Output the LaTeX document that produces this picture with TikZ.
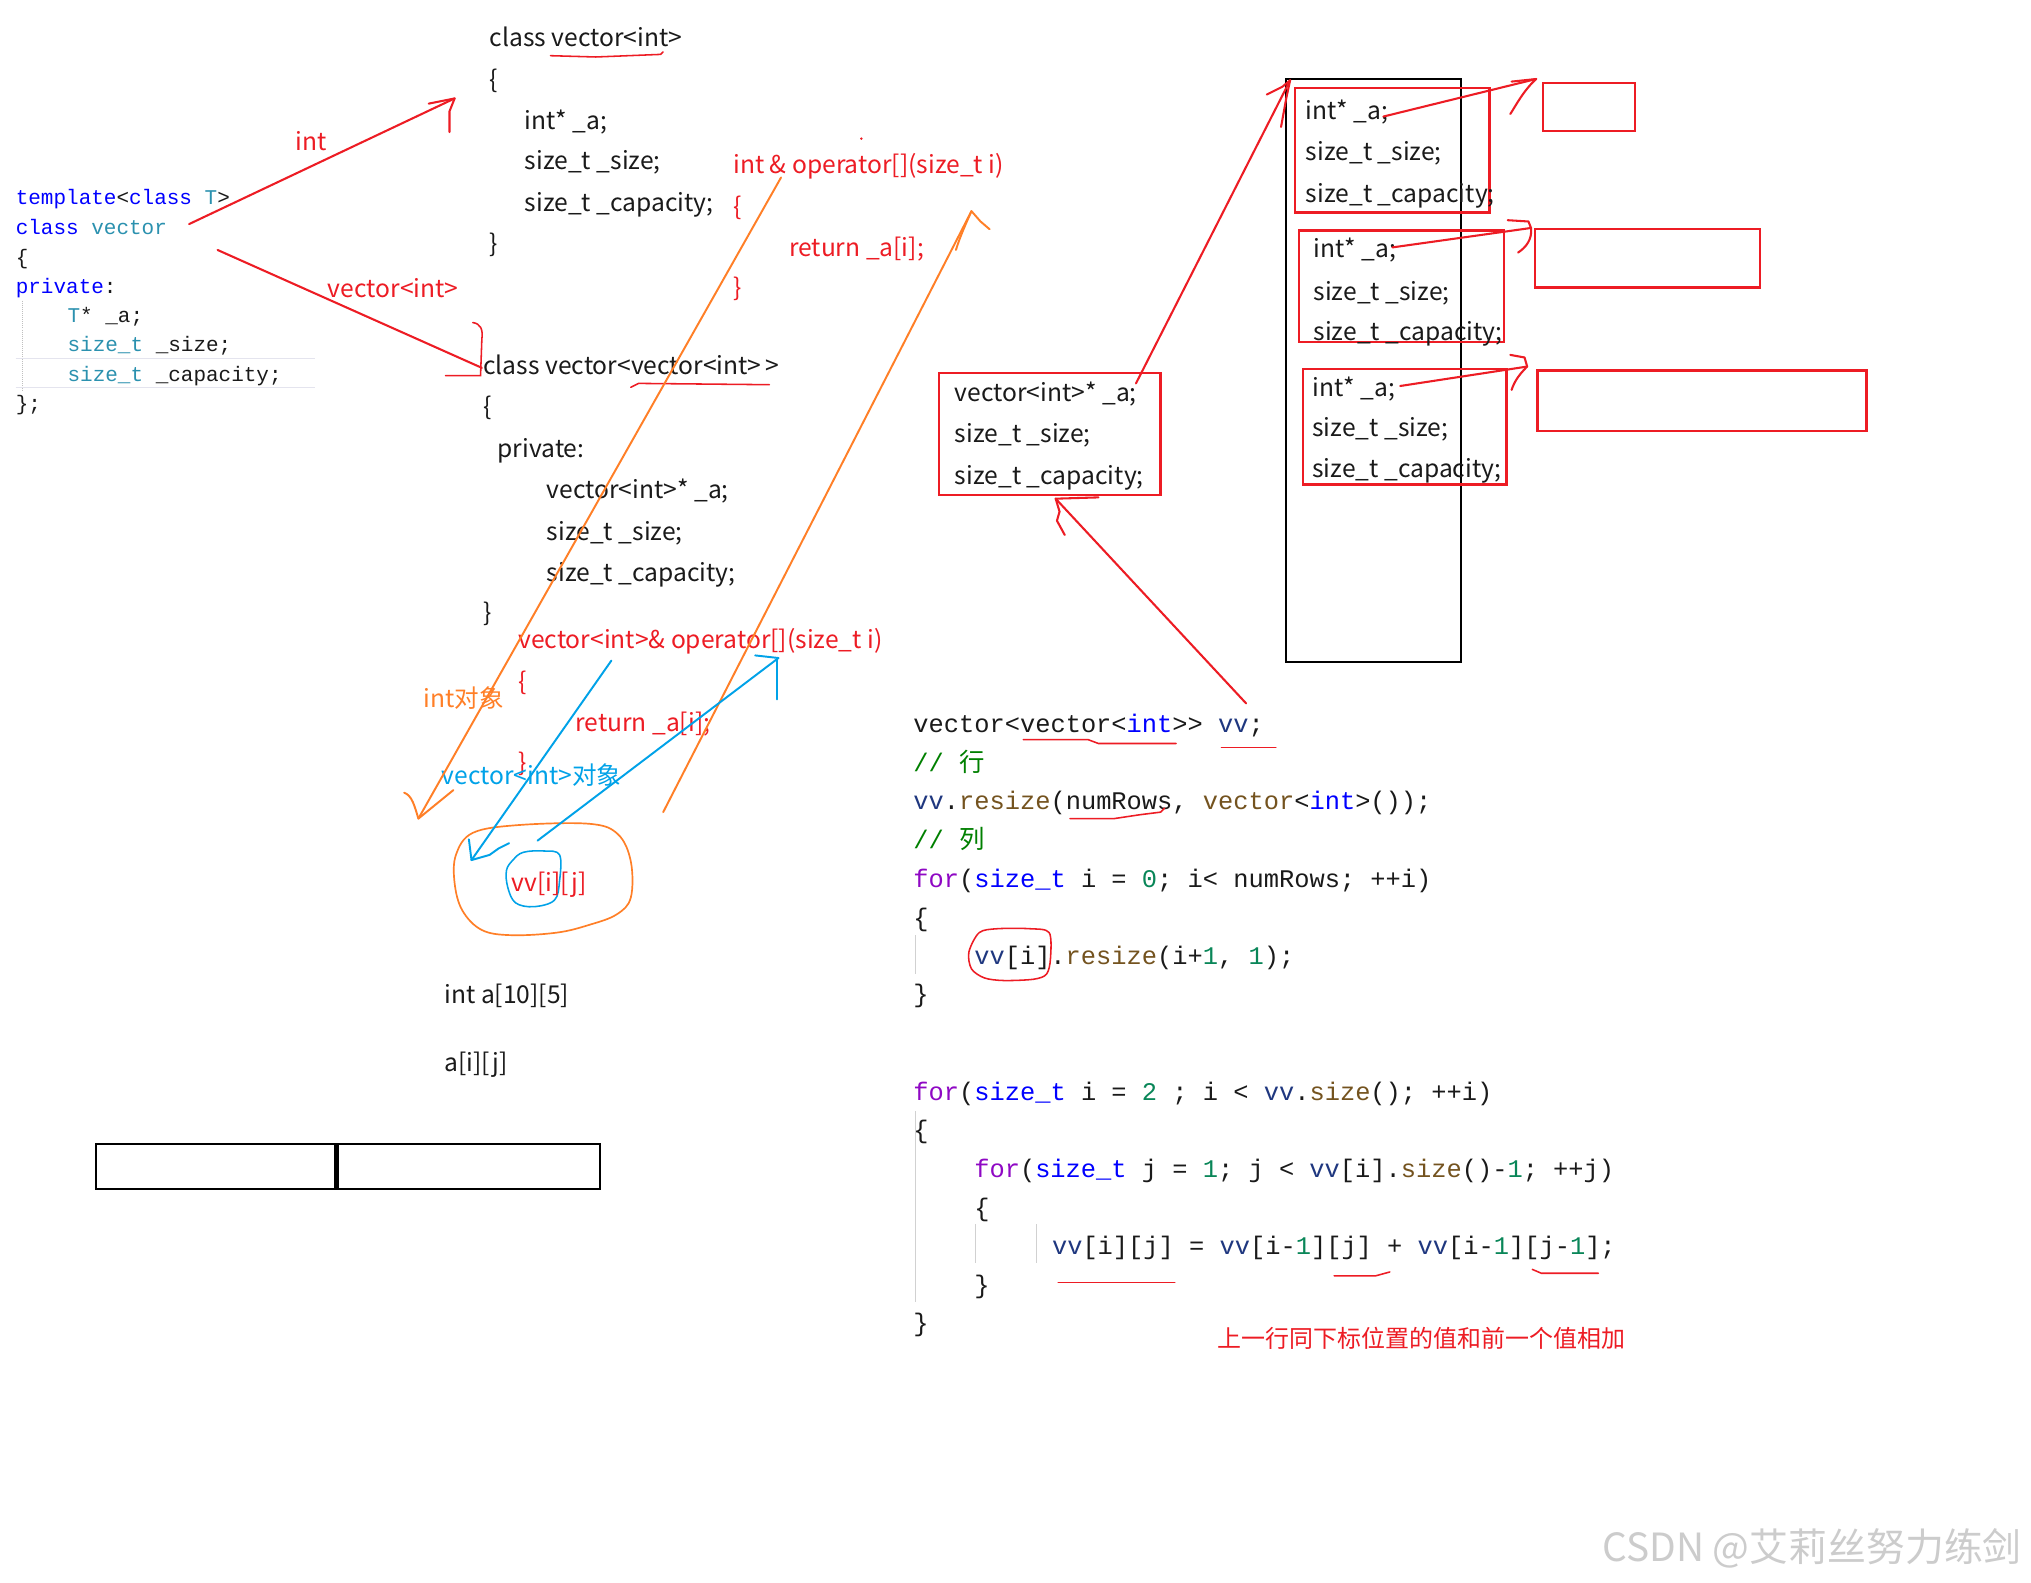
\documentclass[tikz,border=0pt]{standalone}
\usepackage{fontspec}
\newfontfamily\yahei{Noto Sans CJK SC}
\newfontfamily\codemono{Liberation Mono}
\definecolor{annred}{HTML}{ED1C24}
\definecolor{annorange}{HTML}{FF7F27}
\definecolor{annblue}{HTML}{00A2E8}
\definecolor{kw}{HTML}{0000FF}
\definecolor{ty}{HTML}{2B91AF}
\definecolor{fn}{HTML}{74531F}
\definecolor{ctl}{HTML}{8F08C4}
\definecolor{num}{HTML}{098658}
\definecolor{cmt}{HTML}{008000}
\definecolor{loc}{HTML}{1F377F}
\definecolor{txt}{HTML}{1A1A1A}
\definecolor{edline}{HTML}{E4E4EE}
\newcommand\yhf{\yahei\fontsize{19}{23}\selectfont\frenchspacing}
\newcommand\lcf{\codemono\fontsize{16.2}{20}\selectfont\frenchspacing}
\newcommand\rcf{\codemono\fontsize{19.6}{24}\selectfont\frenchspacing}
\tikzset{
  yht/.style={font=\yhf, text=txt, inner sep=0pt, anchor=west, text height=18pt, text depth=2pt},
  lct/.style={font=\lcf, text=txt, inner sep=0pt, anchor=west, text height=14pt, text depth=1.5pt},
  rct/.style={font=\rcf, text=txt, inner sep=0pt, anchor=west, text height=16pt, text depth=1.5pt},
  redpen/.style={draw=annred, line width=1.6pt, line cap=round, line join=round},
  orangepen/.style={draw=annorange, line width=1.5pt, line cap=round, line join=round},
  bluepen/.style={draw=annblue, line width=1.5pt, line cap=round, line join=round},
  redbox/.style={draw=annred, line width=1.7pt},
  blackbox/.style={draw=black, line width=1.7pt},
  guide/.style={draw=black!18, line width=0.8pt}
}
\begin{document}
\begin{tikzpicture}[x=1pt,y=-1pt]
\useasboundingbox (0,0) rectangle (1568,1222);
\fill[white] (0,0) rectangle (1568,1222);

% ---------- left template code ----------
\draw[edline, line width=1pt] (12,277) -- (243,277);
\draw[edline, line width=1pt] (12,299) -- (243,299);
\draw[black!25, densely dotted, line width=0.6pt] (17,232) -- (17,302);
\node[lct] (l1) at (12,152) {\textcolor{kw}{template}<\textcolor{kw}{class} \textcolor{ty}{T}>};
\node[lct] (l2) at (12,175) {\textcolor{kw}{class} \textcolor{ty}{vector}};
\node[lct] (l3) at (12,198) {\{};
\node[lct] (l4) at (12,220) {\textcolor{kw}{private}:};
\node[lct] (l5) at (52,243) {\textcolor{ty}{T}* \_a;};
\node[lct] (l6) at (52,265) {\textcolor{ty}{size\_t} \_size;};
\node[lct] (l7) at (52,288) {\textcolor{ty}{size\_t} \_capacity;};
\node[lct] (l8) at (12,311) {\};};

% int arrow
\coordinate (ia0) at (146,173);
\coordinate (ia1) at (351,76);
\draw[redpen] (ia0) -- (ia1);
\draw[redpen] (331,80) -- (ia1) -- (347,86) -- (347,102);
\node[yht, text=annred] (lint) at (228,108) {int};

% vector<int> line with bracket
\coordinate (va0) at (168,193);
\coordinate (va1) at (372,284);
\draw[redpen] (va0) -- (va1);
\draw[draw=annred, line width=1.2pt, line cap=round] (365,249) .. controls (371,250) and (373,254) .. (372,262) -- (371,290) -- (344,290);
\node[yht, text=annred] (lvi) at (253,222) {vector<int>};

% ---------- class vector<int> ----------
\node[yht] (c1) at (378,28) {class vector<int>};
\draw[draw=annred, line width=1.2pt, line cap=round] (425,43) -- (460,44) -- (485,43) -- (510,42) -- (512,40);
\node[yht] (c2) at (378,60) {\{};
\node[yht] (c3) at (405,92) {int* \_a;};
\node[yht] (c4) at (405,123) {size\_t \_size;};
\node[yht] (c5) at (405,155) {size\_t \_capacity;};
\node[yht] (c6) at (378,187) {\}};
\node[yht, text=annred] (o1) at (566,126) {int \& operator[](size\_t i)};
\node[yht, text=annred] (o2) at (566,158) {\{};
\node[yht, text=annred] (o3) at (609,190) {return \_a[i];};
\node[yht, text=annred] (o4) at (566,221) {\}};
\fill[annred] (665,107) circle (1);

% ---------- class vector<vector<int>> ----------
\node[yht] (d1) at (373,281) {class vector<vector<int>\kern3pt>};
\draw[draw=annred, line width=1.2pt, line cap=round] (487,299) -- (493,296) -- (594,297);
\node[yht] (d2) at (373,313) {\{};
\node[yht] (d3) at (384,345) {private:};
\node[yht] (d4) at (422,377) {vector<int>* \_a;};
\node[yht] (d5) at (422,409) {size\_t \_size;};
\node[yht] (d6) at (422,441) {size\_t \_capacity;};
\node[yht] (d7) at (373,472) {\}};
\node[yht, text=annred] (p1) at (400,493) {vector<int>\& operator[](size\_t i)};
\node[yht, text=annred] (p2) at (400,525) {\{};
\node[yht, text=annred] (p3) at (444,557) {return \_a[i];};
\node[yht, text=annred] (p4) at (400,588) {\}};

\node[yht, text=annorange] (iobj) at (327,538) {int对象};
\node[yht, text=annblue] (vobj) at (341,598) {vector<int>对象};

% orange lines
\coordinate (oa0) at (603,137);
\coordinate (oa1) at (323,632);
\draw[orangepen] (oa0) -- (oa1);
\draw[orangepen] (312,612) .. controls (318,614) and (320,622) .. (oa1) -- (350,610);
\coordinate (ob0) at (512,627);
\coordinate (ob1) at (750,163);
\draw[orangepen] (ob0) -- (ob1);
\draw[orangepen] (738,193) .. controls (741,183) and (746,172) .. (ob1) -- (757,171) -- (764,177);

% orange blob
\draw[orangepen, line width=1.3pt] plot[smooth cycle, tension=0.6] coordinates {(365,643) (400,637) (455,636) (477,644) (487,665) (487,693) (476,706) (455,714) (430,720) (395,722) (372,718) (357,703) (351,682) (352,660)};

% blue lines
\coordinate (ba0) at (472,510);
\coordinate (ba1) at (364,664);
\draw[bluepen] (ba0) -- (ba1);
\draw[bluepen] (362,648) -- (ba1) -- (378,660) -- (385,655) -- (393,651);
\coordinate (bb0) at (415,649);
\coordinate (bb1) at (601,508);
\draw[bluepen] (bb0) -- (bb1);
\draw[bluepen] (583,506) -- (bb1);
\draw[bluepen] (600,508) -- (600,540);
\draw[bluepen, line width=1.2pt] plot[smooth cycle, tension=0.6] coordinates {(396,664) (404,658) (420,657) (432,660) (432,680) (428,695) (412,700) (398,697) (392,685) (391,672)};
\node[yht, text=annred] (vvij) at (395,680) {vv[i][j]};

\node[yht] (arr) at (343,767) {int a[10][5]};
\node[yht] (aij) at (343,819) {a[i][j]};
\draw[blackbox] (74,883) rectangle (259,918);
\draw[blackbox] (261,883) rectangle (463,918);

% ---------- right code ----------
\draw[guide] (707,722) -- (707,752);
\draw[guide] (707,858) -- (707,1005);
\draw[guide] (753,945) -- (753,975);
\draw[guide] (800,945) -- (800,975);
\node[rct] (r1) at (705,558) {vector<vector<\textcolor{kw}{int}>> \textcolor{loc}{vv};};
\node[rct] (r2) at (705,588) {\textcolor{cmt}{// {\yahei 行}}};
\node[rct] (r3) at (705,618) {\textcolor{loc}{vv}.\textcolor{fn}{resize}(numRows, \textcolor{fn}{vector}<\textcolor{kw}{int}>());};
\node[rct] (r4) at (705,648) {\textcolor{cmt}{// {\yahei 列}}};
\node[rct] (r5) at (705,678) {\textcolor{ctl}{for}(\textcolor{kw}{size\_t} i = \textcolor{num}{0}; i< numRows; ++i)};
\node[rct] (r6) at (705,708) {\{};
\node[rct] (r7) at (752,737) {\textcolor{loc}{vv}[i].\textcolor{fn}{resize}(i+\textcolor{num}{1}, \textcolor{num}{1});};
\node[rct] (r8) at (705,767) {\}};
\node[rct] (r9) at (705,842) {\textcolor{ctl}{for}(\textcolor{kw}{size\_t} i = \textcolor{num}{2} ; i < \textcolor{loc}{vv}.\textcolor{fn}{size}(); ++i)};
\node[rct] (r10) at (705,872) {\{};
\node[rct] (r11) at (752,902) {\textcolor{ctl}{for}(\textcolor{kw}{size\_t} j = \textcolor{num}{1}; j < \textcolor{loc}{vv}[i].\textcolor{fn}{size}()-\textcolor{num}{1}; ++j)};
\node[rct] (r12) at (752,932) {\{};
\node[rct] (r13) at (812,961) {\textcolor{loc}{vv}[i][j] = \textcolor{loc}{vv}[i-\textcolor{num}{1}][j] + \textcolor{loc}{vv}[i-\textcolor{num}{1}][j-\textcolor{num}{1}];};
\node[rct] (r14) at (752,991) {\}};
\node[rct] (r15) at (705,1021) {\}};

% red marks on right code
\draw[draw=annred, line width=1.2pt, line cap=round] (790,571) -- (840,571) -- (848,574) -- (908,574);
\draw[draw=annred, line width=1.2pt, line cap=round] (943,577) -- (985,577);
\draw[draw=annred, line width=1.2pt, line cap=round] (826,632) -- (860,632) -- (880,629) -- (896,627) -- (899,624);
\draw[draw=annred, line width=1.2pt, line cap=round] plot[smooth cycle, tension=0.5] coordinates {(756,720) (770,717) (795,717) (810,720) (811,740) (808,752) (798,756) (775,757) (760,755) (750,748) (748,735)};
\draw[draw=annred, line width=1.2pt, line cap=round] (817,990) -- (907,990);
\draw[draw=annred, line width=1.2pt, line cap=round] (1030,985) -- (1062,985) -- (1073,982);
\draw[draw=annred, line width=1.2pt, line cap=round] (1183,980) -- (1190,983) -- (1234,983);
\node[font=\yahei\fontsize{18.5}{22}\selectfont, text=annred, inner sep=0pt, anchor=west] (cmt) at (940,1033) {上一行同下标位置的值和前一个值相加};

% ---------- memory boxes ----------
\draw[redbox] (725,288) rectangle (896,382);
\node[yht] (v1) at (737,302) {vector<int>* \_a;};
\node[yht] (v2) at (737,334) {size\_t \_size;};
\node[yht] (v3) at (737,366) {size\_t \_capacity;};

\draw[blackbox] (993,61) rectangle (1128,511);
\draw[redbox] (1000,68) rectangle (1150,164);
\node[yht] (a1) at (1008,84) {int* \_a;};
\node[yht] (a2) at (1008,116) {size\_t \_size;};
\node[yht] (a3) at (1008,148) {size\_t \_capacity;};
\draw[redbox] (1003,178) rectangle (1161,264);
\node[yht] (b1) at (1014,191) {int* \_a;};
\node[yht] (b2) at (1014,224) {size\_t \_size;};
\node[yht] (b3) at (1014,255) {size\_t \_capacity;};
\draw[redbox] (1006,285) rectangle (1163,374);
\node[yht] (e1) at (1013,298) {int* \_a;};
\node[yht] (e2) at (1013,329) {size\_t \_size;};
\node[yht] (e3) at (1013,361) {size\_t \_capacity;};

\draw[redbox] (1191,64) rectangle (1262,101);
\draw[redbox] (1185,177) rectangle (1359,222);
\draw[redbox] (1187,286) rectangle (1441,333);

% arrows between memory boxes
\coordinate (m0) at (962,543);
\coordinate (m1) at (815,385);
\draw[redpen] (m0) -- (m1);
\draw[redpen] (m1) -- (818,395) -- (816,402) -- (822,413);
\draw[redpen] (m1) -- (848,384);
\coordinate (n0) at (877,296);
\coordinate (n1) at (996,62);
\draw[redpen] (n0) -- (n1);
\draw[redpen] (978,73) -- (990,67) -- (n1) -- (993,76) -- (989,98);
\coordinate (q0) at (1068,90);
\coordinate (q1) at (1186,61);
\draw[redpen] (q0) -- (q1);
\draw[redpen] (1167,63) -- (q1) .. controls (1176,70) and (1170,82) .. (1166,88);
\coordinate (s0) at (1075,191);
\coordinate (s1) at (1182,176);
\draw[redpen] (s0) -- (s1);
\draw[redpen] (1164,170) -- (1180,171) -- (s1) .. controls (1183,185) and (1178,191) .. (1172,195);
\coordinate (t0) at (1081,298);
\coordinate (t1) at (1179,283);
\draw[redpen] (t0) -- (t1);
\draw[redpen] (1166,274) -- (1177,276) -- (t1) .. controls (1172,290) and (1169,295) .. (1167,301);

% watermark
\node[font=\yahei\fontsize{30}{34}\selectfont, text=black!20, inner sep=0pt, anchor=west] (wm) at (1237,1195) {CSDN @艾莉丝努力练剑};
\end{tikzpicture}
\end{document}
